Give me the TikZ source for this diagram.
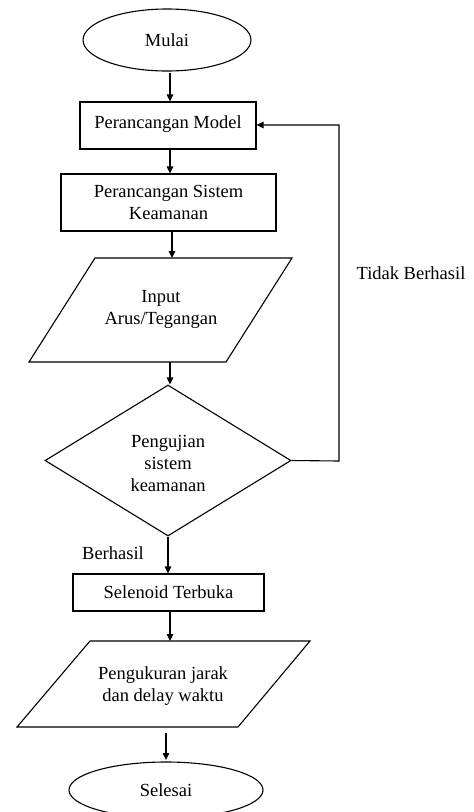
\documentclass[tikz,border=0pt]{standalone}
\usepackage{fontspec}
\setmainfont{Liberation Serif}
\usetikzlibrary{arrows.meta,shapes.geometric}
\begin{document}
\begin{tikzpicture}[x=1pt,y=-1pt,
  line width=1.1pt,
  txt/.style={font=\fontsize{18.5}{22}\selectfont, align=center, inner sep=0pt},
  startstop/.style={draw, ellipse, inner sep=0pt, txt},
  procbox/.style={draw, rectangle, inner sep=0pt, txt},
  decbox/.style={draw, diamond, inner sep=0pt, txt},
  arr/.style={-{Triangle[length=7pt,width=6.5pt]}},
  lbl/.style={txt}]
\useasboundingbox (0,0) rectangle (474,812);

% terminals and boxes
\node[startstop, minimum width=168pt, minimum height=62pt] (mulai) at (167,40) {Mulai};
\node[procbox, minimum width=176pt, minimum height=47pt] (model) at (168,125.5) {\raisebox{6pt}{Perancangan Model}};
\node[procbox, minimum width=215pt, minimum height=57pt] (sistem) at (168.5,202.5) {Perancangan Sistem\\Keamanan};

% input parallelogram
\coordinate (i1) at (95,258); \coordinate (i2) at (292,258);
\coordinate (i3) at (226,362); \coordinate (i4) at (29,362);
\draw (i1) -- (i2) -- (i3) -- (i4) -- cycle;
\node[txt] (input) at (161,309) {Input\\Arus/Tegangan};
\coordinate (intop) at (172,258);
\coordinate (inbot) at (170,362);

% decision
\node[decbox, minimum width=246pt, minimum height=151pt] (uji) at (168,460.5) {};
\node[txt] (ujitxt) at (168,463) {Pengujian\\sistem\\keamanan};

\node[procbox, minimum width=191pt, minimum height=37pt] (selenoid) at (168.5,592.5) {Selenoid Terbuka};

% output parallelogram
\coordinate (o1) at (90,641); \coordinate (o2) at (310,641);
\coordinate (o3) at (238,727); \coordinate (o4) at (17,727);
\draw (o1) -- (o2) -- (o3) -- (o4) -- cycle;
\node[txt] (ukur) at (163,686) {Pengukuran jarak\\dan delay waktu};
\coordinate (outtop) at (170,641);
\coordinate (outbot) at (166,733);

\node[startstop, minimum width=194pt, minimum height=56pt] (selesai) at (166,790) {Selesai};

% labels
\node[lbl] (tidak) at (411,273) {Tidak Berhasil};
\node[lbl] (berhasil) at (113,553) {Berhasil};

% connectors
\coordinate (m0) at (170,73);
\draw[arr] (m0) -- (model.north -| m0);
\coordinate (m1) at (170,149);
\draw[arr] (m1) -- (sistem.north -| m1);
\coordinate (s1) at (172,231);
\draw[arr] (s1) -- (intop);
\draw[arr] (inbot) -- (uji.north -| inbot);
\draw[arr] (uji.south) -- (selenoid.north -| uji.south);
\coordinate (se1) at (170,611);
\draw[arr] (se1) -- (outtop);
\coordinate (sl1) at (166,760);
\draw[arr] (outbot) -- (sl1);
\coordinate (loopr) at (339,461);
\coordinate (loopt) at (339,125);
\draw[arr] (uji.east) -- (loopr) -- (loopt) -- (model.east |- loopt);
\end{tikzpicture}
\end{document}
